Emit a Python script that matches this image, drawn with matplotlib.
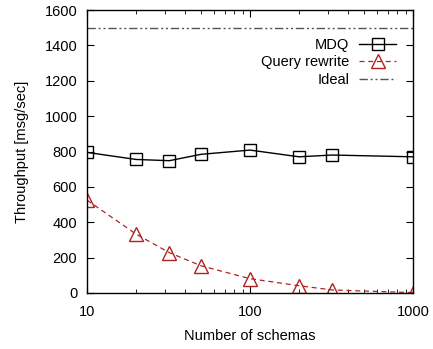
import matplotlib
matplotlib.use('Agg')
import matplotlib.pyplot as plt
from matplotlib.ticker import FixedLocator, NullFormatter

plt.rcParams['font.family'] = ['Liberation Sans', 'DejaVu Sans']

# data
schemas = [10, 20, 32, 50, 100, 200, 320, 1000]
mdq = [795, 755, 748, 784, 808, 770, 780, 770]
rewrite = [525, 333, 228, 154, 81, 41, 17, 2]
ideal = 1500

fig = plt.figure(figsize=(4.33, 3.49), dpi=100)
ax = fig.add_axes([0.2009, 0.1605, 0.7529, 0.8108])

ax.plot(schemas, mdq, color='black', lw=1, marker='s', ms=9,
        mfc='none', mec='black', mew=1, label='MDQ')
ax.plot(schemas, rewrite, color='#b22222', lw=0.9, ls=(0, (4, 3)), marker='^',
        ms=10, mfc='none', mec='#b22222', mew=1, label='Query rewrite')
ax.axhline(ideal, color='#555555', lw=1, ls=(0, (6, 2, 1.5, 2, 1.5, 2)),
           label='Ideal')

ax.set_xscale('log')
ax.set_xlim(10, 1000)
ax.set_ylim(0, 1600)
ax.set_xticks([10, 100, 1000])
ax.set_xticklabels(['10', '100', '1000'])
ax.xaxis.set_minor_locator(FixedLocator([20, 30, 40, 50, 60, 70, 80, 90,
                                         200, 300, 400, 500, 600, 700, 800, 900]))
ax.xaxis.set_minor_formatter(NullFormatter())
ax.set_yticks(range(0, 1601, 200))

ax.tick_params(which='both', direction='in', top=True, right=True,
               labelsize=10.5, colors='black')
ax.tick_params(which='major', length=5)
ax.tick_params(axis='x', which='major', pad=9)
ax.tick_params(axis='y', which='major', pad=7)
ax.tick_params(which='minor', length=3)
for s in ax.spines.values():
    s.set_linewidth(1)

ax.set_xlabel('Number of schemas', fontsize=10.5, labelpad=7)
ax.set_ylabel('Throughput [msg/sec]', fontsize=10.5, labelpad=11)

ax.legend(loc='upper right', bbox_to_anchor=(0.97, 0.928), frameon=False,
          markerfirst=False, fontsize=10.5, handlelength=2.5,
          handletextpad=0.7, labelspacing=0.25, borderpad=0)

fig.savefig('out.png', dpi=100)
